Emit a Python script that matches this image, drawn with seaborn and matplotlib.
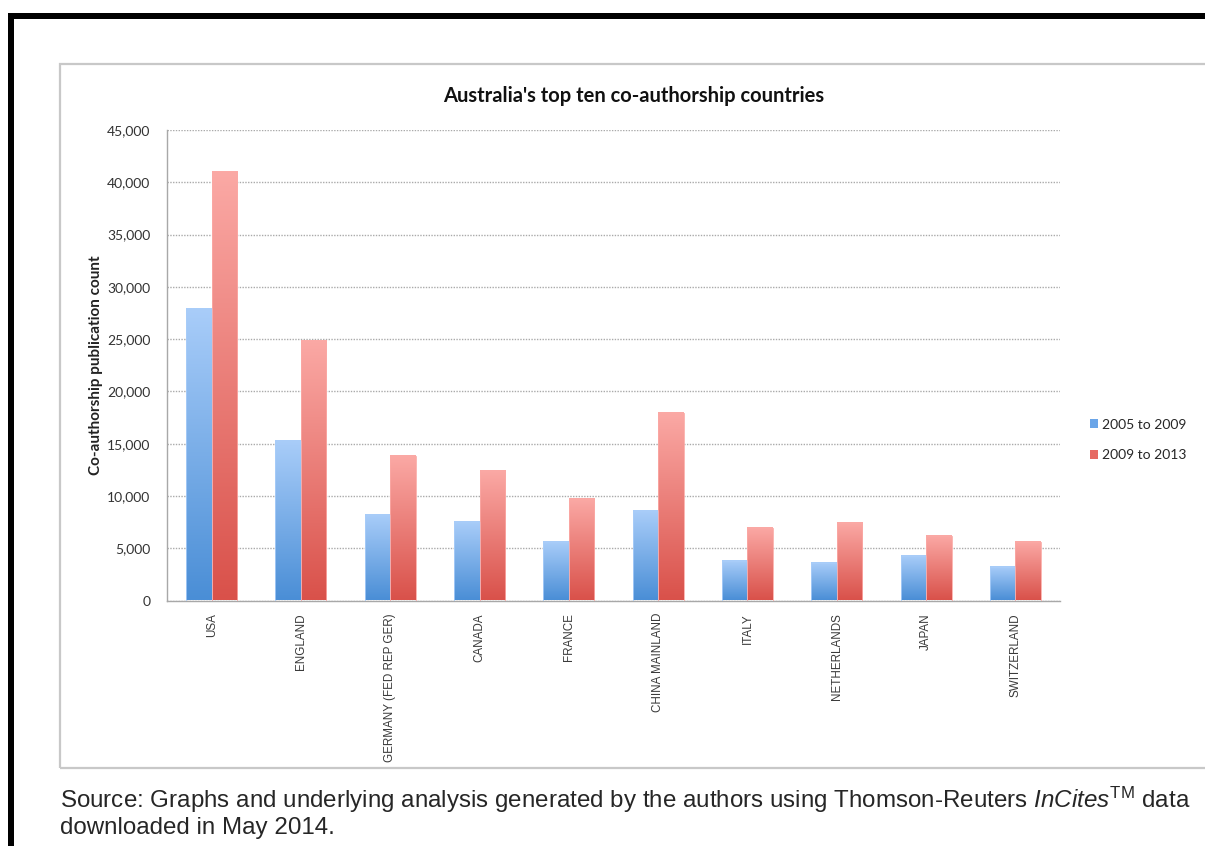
import numpy as np
import pandas as pd
import seaborn as sns
import matplotlib.pyplot as plt
from matplotlib.colors import LinearSegmentedColormap
from matplotlib.patches import Rectangle, Patch
from matplotlib.ticker import FuncFormatter

countries = [
	"USA", "ENGLAND", "GERMANY (FED REP GER)", "CANADA", "FRANCE",
	"CHINA MAINLAND", "ITALY", "NETHERLANDS", "JAPAN", "SWITZERLAND",
]
periods = ["2005 to 2009", "2009 to 2013"]
count_2005_2009 = [27900, 15300, 8200, 7500, 5600, 8600, 3800, 3600, 4300, 3200]
count_2009_2013 = [41000, 24800, 13800, 12400, 9700, 17900, 6900, 7400, 6200, 5600]

# gradient colours (bottom, top) per period
gradients = [("#4a8ed6", "#a9cdf9"), ("#d9514a", "#fba9a5")]
legend_colors = ["#6aa5e8", "#e66a63"]

W, H = 1205, 846


def fx(px):
	return px / W


def fy(py):
	return 1 - py / H


def main() -> None:
	sns.set_style("white")
	plt.rcParams["font.family"] = ["Lato", "DejaVu Sans"]
	plt.rcParams["mathtext.fontset"] = "custom"
	plt.rcParams["mathtext.rm"] = "Liberation Sans"
	plt.rcParams["mathtext.it"] = "Liberation Sans:italic"

	df = pd.DataFrame(
		{
			"country": countries * 2,
			"period": [periods[0]] * len(countries) + [periods[1]] * len(countries),
			"count": count_2005_2009 + count_2009_2013,
		}
	)

	fig = plt.figure(figsize=(W / 100, H / 100), dpi=100)
	ax = fig.add_axes([fx(167), fy(600.5), fx(1060) - fx(167), fy(130) - fy(600.5)])

	sns.barplot(
		data=df, x="country", y="count", hue="period", order=countries,
		hue_order=periods, palette=legend_colors, width=0.57, gap=0,
		legend=False, ax=ax, zorder=2,
	)

	# paint each bar with a vertical gradient
	grad = np.linspace(0, 1, 256).reshape(-1, 1)
	for container, (c_bot, c_top) in zip(ax.containers, gradients):
		cmap = LinearSegmentedColormap.from_list("g", [c_bot, c_top])
		for bar in container:
			x, y = bar.get_x(), bar.get_y()
			w, h = bar.get_width(), bar.get_height()
			ax.imshow(grad, extent=[x, x + w, y, y + h], origin="lower",
					  cmap=cmap, aspect="auto", zorder=2, interpolation="bilinear")
			bar.set_facecolor("none")
			bar.set_edgecolor(c_top)
			bar.set_linewidth(0.6)
			bar.set_zorder(3)

	ax.set_xlim(-0.5, len(countries) - 0.5)
	ax.set_ylim(0, 45000)
	ax.set_yticks(range(0, 45001, 5000))
	ax.yaxis.set_major_formatter(FuncFormatter(lambda v, _: f"{int(v):,}"))
	ax.set_xticks(np.arange(-0.5, len(countries), 1), minor=True)

	ax.yaxis.grid(True, linestyle=(0, (1, 1)), color="#aaaaaa", linewidth=1)
	ax.set_axisbelow(True)
	for side in ["top", "right"]:
		ax.spines[side].set_visible(False)
	for side in ["left", "bottom"]:
		ax.spines[side].set_color("#a8a8a8")
		ax.spines[side].set_linewidth(1)

	ax.tick_params(axis="y", length=5, width=1, color="#a8a8a8", pad=7,
				   labelsize=10, labelcolor="#333333")
	ax.tick_params(axis="x", which="major", length=0, pad=9, labelrotation=90)
	ax.tick_params(axis="x", which="minor", length=4, width=1, color="#b8b8b8")
	for lab in ax.get_xticklabels():
		lab.set_fontfamily("Liberation Sans")
		lab.set_fontsize(8.4)
		lab.set_color("#3a3a3a")

	ax.set_xlabel("")
	ax.set_ylabel("Co-authorship publication count", fontsize=11, fontweight="bold",
				  color="#222222")
	ax.yaxis.set_label_coords(-0.072, 0.5)

	fig.text(fx(634), fy(96), "Australia's top ten co-authorship countries",
			 ha="center", va="center", fontsize=14.5, fontweight="bold", color="#111111")

	handles = [Patch(facecolor=c, edgecolor="none") for c in legend_colors]
	fig.legend(handles, periods, loc="center left", bbox_to_anchor=(fx(1090), fy(440)),
			   frameon=False, fontsize=10, handlelength=0.6, handleheight=0.6,
			   handletextpad=0.3, labelspacing=1.35, borderaxespad=0, borderpad=0)

	# chart area frame and the page's black border
	fig.patches.append(Rectangle((fx(60), fy(768)), 1.2, fy(64) - fy(768),
								 transform=fig.transFigure, facecolor="none",
								 edgecolor="#c8c8c8", linewidth=1.6))
	fig.patches.append(Rectangle((fx(8), fy(19)), 1.2, fy(13) - fy(19),
								 transform=fig.transFigure, facecolor="black",
								 edgecolor="none"))
	fig.patches.append(Rectangle((fx(8), -0.1), fx(14) - fx(8), fy(13) + 0.1,
								 transform=fig.transFigure, facecolor="black",
								 edgecolor="none"))

	fig.text(fx(60), fy(808),
			 r"Source: Graphs and underlying analysis generated by the authors using "
			 r"Thomson-Reuters $\mathit{InCites}^{\mathrm{TM}}$ data",
			 ha="left", va="baseline", fontsize=17.4, family="Liberation Sans")
	fig.text(fx(60), fy(834), "downloaded in May 2014.",
			 ha="left", va="baseline", fontsize=17.4, family="Liberation Sans")

	fig.savefig("out.png", dpi=100)


if __name__ == "__main__":
	main()
